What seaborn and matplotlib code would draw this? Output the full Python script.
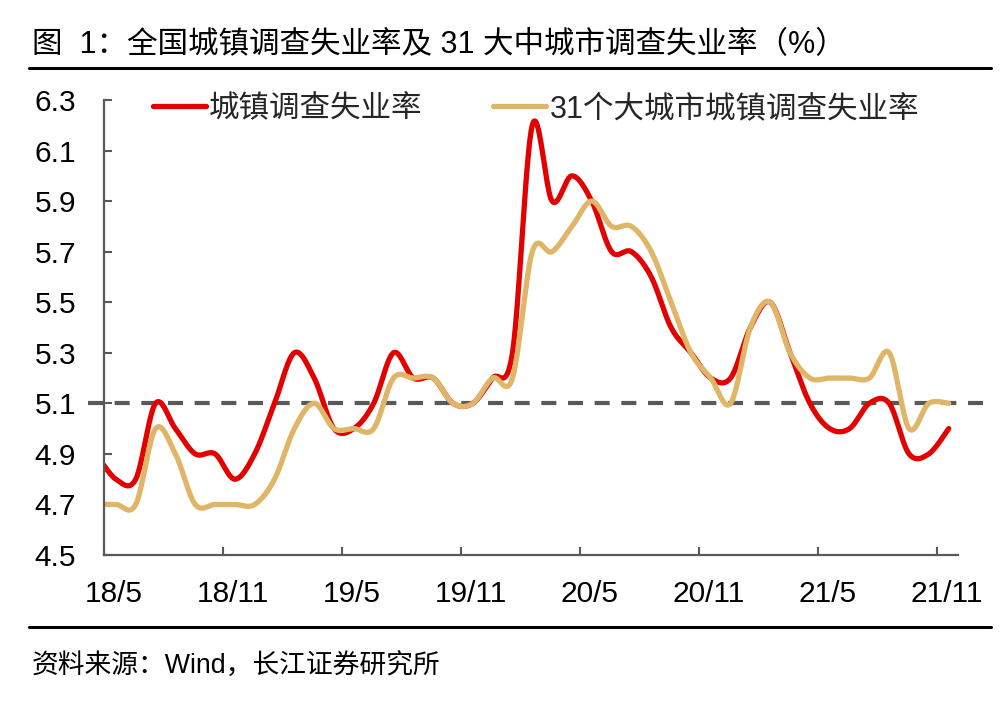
import numpy as np
import pandas as pd
import matplotlib
matplotlib.use("Agg")
import matplotlib.pyplot as plt
import matplotlib.transforms as mtransforms
from matplotlib.lines import Line2D
import seaborn as sns

# ---------------- data ----------------
months = ["2018-04", "2018-05", "2018-06", "2018-07", "2018-08", "2018-09", "2018-10", "2018-11", "2018-12",
          "2019-01", "2019-02", "2019-03", "2019-04", "2019-05", "2019-06", "2019-07", "2019-08", "2019-09",
          "2019-10", "2019-11", "2019-12",
          "2020-01", "2020-02", "2020-03", "2020-04", "2020-05", "2020-06", "2020-07", "2020-08", "2020-09",
          "2020-10", "2020-11", "2020-12",
          "2021-01", "2021-02", "2021-03", "2021-04", "2021-05", "2021-06", "2021-07", "2021-08", "2021-09",
          "2021-10", "2021-11"]
national = [4.9, 4.8, 4.8, 5.1, 5.0, 4.9, 4.9, 4.8, 4.9,
            5.1, 5.3, 5.2, 5.0, 5.0, 5.1, 5.3, 5.2, 5.2, 5.1, 5.1, 5.2,
            5.3, 6.2, 5.9, 6.0, 5.9, 5.7, 5.7, 5.6, 5.4, 5.3, 5.2, 5.2,
            5.4, 5.5, 5.3, 5.1, 5.0, 5.0, 5.1, 5.1, 4.9, 4.9, 5.0]
city31 = [4.7, 4.7, 4.7, 5.0, 4.9, 4.7, 4.7, 4.7, 4.7,
          4.8, 5.0, 5.1, 5.0, 5.0, 5.0, 5.2, 5.2, 5.2, 5.1, 5.1, 5.2,
          5.2, 5.7, 5.7, 5.8, 5.9, 5.8, 5.8, 5.7, 5.5, 5.3, 5.2, 5.1,
          5.4, 5.5, 5.3, 5.2, 5.2, 5.2, 5.2, 5.3, 5.0, 5.1, 5.1]
tick_months = ["2018-05", "2018-11", "2019-05", "2019-11", "2020-05", "2020-11", "2021-05", "2021-11"]
tick_labels = ["18/5", "18/11", "19/5", "19/11", "20/5", "20/11", "21/5", "21/11"]
series_names = ["城镇调查失业率", "31个大城市城镇调查失业率"]
reference_level = 5.1
title = "图  1：全国城镇调查失业率及 31 大中城市调查失业率（%）"
source = "资料来源：Wind，长江证券研究所"

RED = "#E30000"
GOLD = "#DFB567"
GREY = "#595959"


def month_index(m):
    y, mo = m.split("-")
    return (int(y) - 2018) * 12 + (int(mo) - 5)


def smooth(xs, ys, n=24):
    """Excel-like smoothed line (uniform Catmull-Rom) through the points."""
    xs = np.asarray(xs, float)
    ys = np.asarray(ys, float)
    px = np.concatenate([[xs[0]], xs, [xs[-1]]])
    py = np.concatenate([[ys[0]], ys, [ys[-1]]])
    outx, outy = [], []
    t = np.linspace(0, 1, n, endpoint=False)
    for i in range(1, len(px) - 2):
        x0, x1, x2, x3 = px[i - 1:i + 3]
        y0, y1, y2, y3 = py[i - 1:i + 3]
        b1x, b1y = x1 + (x2 - x0) / 6, y1 + (y2 - y0) / 6
        b2x, b2y = x2 - (x3 - x1) / 6, y2 - (y3 - y1) / 6
        a, b, c, d = (1 - t) ** 3, 3 * (1 - t) ** 2 * t, 3 * (1 - t) * t ** 2, t ** 3
        outx.append(a * x1 + b * b1x + c * b2x + d * x2)
        outy.append(a * y1 + b * b1y + c * b2y + d * y2)
    outx.append([xs[-1]])
    outy.append([ys[-1]])
    return np.concatenate(outx), np.concatenate(outy)


x_offset = 0.6
xpos = [month_index(m) + x_offset for m in months]

frames = []
for name, vals in zip(series_names, [national, city31]):
    sx, sy = smooth(xpos, vals)
    frames.append(pd.DataFrame({"x": sx, "y": sy, "series": name, "order": np.arange(len(sx))}))
df = pd.concat(frames, ignore_index=True)

# ---------------- figure ----------------
sns.set_theme(style="white")
plt.rcParams["font.family"] = ["Liberation Sans", "Noto Sans CJK SC", "DejaVu Sans"]
plt.rcParams["axes.unicode_minus"] = False

fig = plt.figure(figsize=(10.01, 7.03), dpi=100)
ax = fig.add_axes([104 / 1001, 1 - 555 / 703, (958 - 104) / 1001, (555 - 100) / 703])

sns.lineplot(data=df, x="x", y="y", hue="series", hue_order=series_names,
             palette=[RED, GOLD], sort=False, estimator=None, units="series",
             linewidth=3.8, ax=ax)

# reference dashed line (extends slightly beyond axes)
trans = mtransforms.blended_transform_factory(ax.transAxes, ax.transData)
ax.plot([-0.019, 1.032], [reference_level, reference_level], transform=trans,
        color=GREY, lw=3, dashes=(3.6, 2.8), clip_on=False, zorder=1)

ax.set_xlim(0, 43.07)
ax.set_ylim(4.5, 6.3)
yt = np.round(np.arange(4.5, 6.31, 0.2), 1)
ax.set_yticks(yt)
ax.set_yticklabels([f"{v:.1f}" for v in yt])

tpos = [month_index(m) for m in tick_months]
ax.set_xticks(tpos)
ax.set_xticklabels([])
ax.set_xticks([p + 0.5 for p in tpos], minor=True)
ax.set_xticklabels(tick_labels, minor=True)

ax.set_xlabel("")
ax.set_ylabel("")
for s in ["top", "right"]:
    ax.spines[s].set_visible(False)
for s in ["left", "bottom"]:
    ax.spines[s].set_color(GREY)
    ax.spines[s].set_linewidth(1.6)

ax.tick_params(axis="y", direction="in", length=6, width=1.5, color=GREY,
               labelsize=21.5, pad=20, labelcolor="black", left=True)
ax.tick_params(axis="x", which="major", direction="in", length=6, width=1.5,
               color=GREY, bottom=True)
ax.tick_params(axis="x", which="minor", length=0, labelsize=21.5, pad=18,
               labelcolor="black", bottom=True)

handles, labels = ax.get_legend_handles_labels()
ax.legend(handles, labels, loc="center left", bbox_to_anchor=(0.057, 0.98),
          ncol=2, frameon=False, fontsize=22, handlelength=1.75,
          handletextpad=0.1, columnspacing=2.3, borderpad=0, borderaxespad=0)

fig.text(32 / 1001, 1 - 45 / 703, title, ha="left", va="center", fontsize=22, color="black")
fig.add_artist(Line2D([29 / 1001, 991 / 1001], [1 - 68 / 703] * 2, color="black", lw=2.2,
                      transform=fig.transFigure))
fig.add_artist(Line2D([29 / 1001, 991 / 1001], [1 - 627 / 703] * 2, color="black", lw=2.2,
                      transform=fig.transFigure))
fig.text(32 / 1001, 1 - 667 / 703, source, ha="left", va="center", fontsize=19.3, color="black")

fig.savefig("out.png", dpi=100)
